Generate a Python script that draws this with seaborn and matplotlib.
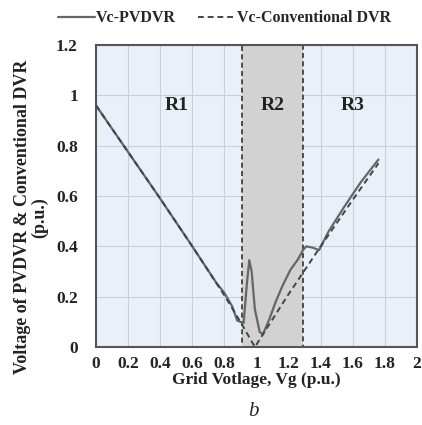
import pandas as pd
import matplotlib
matplotlib.use("Agg")
import matplotlib.pyplot as plt
import seaborn as sns

# PV-DVR compensating voltage
vg_pv = [0.0, 0.2, 0.4, 0.6, 0.75, 0.8, 0.85, 0.88, 0.92, 0.94, 0.955,
         0.97, 0.99, 1.02, 1.04, 1.08, 1.12, 1.16, 1.21, 1.26, 1.29, 1.31, 1.35,
         1.39, 1.45, 1.55, 1.65, 1.76]
vc_pv = [0.96, 0.775, 0.59, 0.4, 0.255, 0.215, 0.16, 0.105, 0.095,
         0.25, 0.345, 0.30, 0.15, 0.06, 0.05, 0.11, 0.18, 0.24, 0.305, 0.35, 0.385,
         0.40, 0.395, 0.385, 0.46, 0.56, 0.655, 0.745]

# Conventional DVR compensating voltage
vg_conv = [0.0, 0.2, 0.4, 0.6, 0.8, 0.9, 0.99, 1.04, 1.2, 1.4, 1.6, 1.76]
vc_conv = [0.96, 0.775, 0.59, 0.4, 0.205, 0.1, 0.0, 0.05, 0.21, 0.4, 0.585, 0.73]

xticks = [0, 0.2, 0.4, 0.6, 0.8, 1, 1.2, 1.4, 1.6, 1.8, 2]
yticks = [0, 0.2, 0.4, 0.6, 0.8, 1, 1.2]
regions = ["R1", "R2", "R3"]
region_x = [0.5, 1.1, 1.6]
r2_span = (0.91, 1.29)

sns.set_theme(style="whitegrid")
plt.rcParams["font.family"] = ["Liberation Serif", "DejaVu Serif"]
plt.rcParams["font.weight"] = "bold"

df_pv = pd.DataFrame({"Vg": vg_pv, "Vc": vc_pv})
df_conv = pd.DataFrame({"Vg": vg_conv, "Vc": vc_conv})

fig = plt.figure(figsize=(4.22, 4.25), dpi=100)
ax = fig.add_axes([0.2275, 0.1835, 0.7605, 0.7105])
ax.set_facecolor("#eaf0fa")

ax.axvspan(r2_span[0], r2_span[1], facecolor="#d2d2d2", edgecolor="#333333",
           linestyle=(0, (3, 2)), linewidth=1.2, zorder=1)

sns.lineplot(data=df_pv, x="Vg", y="Vc", ax=ax, color="#666666", linewidth=1.6,
             label="Vc-PVDVR", sort=False, zorder=3)
sns.lineplot(data=df_conv, x="Vg", y="Vc", ax=ax, color="#444444", linewidth=1.4,
             linestyle=(0, (3, 2)), label="Vc-Conventional DVR", sort=False, zorder=3)

for name, xr in zip(regions, region_x):
    ax.text(xr, 0.96, name, ha="center", va="center", fontsize=14,
            fontweight="bold", color="#222222")

ax.set_xlim(0, 2)
ax.set_ylim(0, 1.2)
ax.set_xticks(xticks)
ax.set_yticks(yticks)
ax.set_xticklabels([f"{v:g}" for v in xticks])
ax.set_yticklabels([f"{v:g}" for v in yticks])
ax.tick_params(labelsize=12.5, colors="#222222", length=3, color="#999999")
ax.tick_params(axis="y", pad=10)
ax.grid(True, color="#c8cfdc", linewidth=0.8)
for s in ax.spines.values():
    s.set_color("#555555")
    s.set_linewidth(1.5)

ax.set_xlabel("Grid Votlage, Vg (p.u.)", fontsize=12.5, fontweight="bold",
              color="#222222", labelpad=0)
ax.set_ylabel("Voltage of PVDVR & Conventional DVR\n(p.u.)", fontsize=13,
              fontweight="bold", color="#222222", linespacing=1.0)
ax.yaxis.set_label_coords(-0.15, 0.43)

ax.legend(loc="lower center", bbox_to_anchor=(0.40, 1.03), ncol=2, frameon=False,
          fontsize=11.5, handlelength=2.3, handletextpad=0.1, columnspacing=1.4,
          borderaxespad=0.2)

fig.text(0.6, 0.02, "b", ha="center", fontsize=15, style="italic",
         fontweight="normal", color="#222222")

fig.savefig("out.png", dpi=100)
